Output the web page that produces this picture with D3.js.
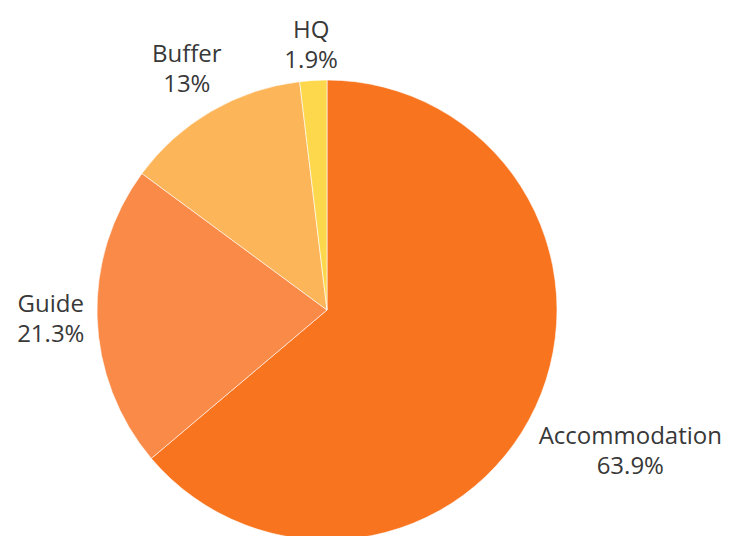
<!DOCTYPE html>
<html>
<head>
<meta charset="utf-8">
<script src="https://cdn.jsdelivr.net/npm/d3@7"></script>
<style>
  body { margin: 0; background: #fff; }
  text { font-family: "Open Sans", sans-serif; fill: #383838; }
</style>
</head>
<body>
<div class="chart"></div>
<script>
// slice data, clockwise from 12 o'clock
var categories = ["Accommodation", "Guide", "Buffer", "HQ"];
var shares = [63.9, 21.3, 13, 1.9];
var shareLabels = ["63.9%", "21.3%", "13%", "1.9%"];
var colors = ["#f8741f", "#fa8a47", "#fdb55a", "#fdd84c"];

var width = 743, height = 536;
var cx = 327, cy = 310, radius = 230;

var svg = d3.select(".chart").append("svg")
    .attr("width", width)
    .attr("height", height)
    .append("g")
    .attr("transform", "translate(" + cx + "," + cy + ")");

var data = categories.map(function (c, i) {
    return { name: c, value: shares[i], label: shareLabels[i], color: colors[i] };
});

var pie = d3.pie()
    .sort(null)
    .value(function (d) { return d.value; });

var arc = d3.arc()
    .innerRadius(0)
    .outerRadius(radius);

var arcs = pie(data);

svg.selectAll("path")
    .data(arcs)
    .enter().append("path")
    .attr("d", arc)
    .attr("fill", function (d) { return d.data.color; })
    .attr("stroke", "#fff")
    .attr("stroke-width", 0.6);

// labels: two lines, placed just outside the rim
var lineH = 30, gap = 12;
var labels = svg.selectAll("g.label")
    .data(arcs)
    .enter().append("g")
    .attr("class", "label");

labels.append("text")
    .attr("text-anchor", "middle")
    .style("font-size", "24px")
    .attr("y", -lineH / 2 + 8)
    .text(function (d) { return d.data.name; });

labels.append("text")
    .attr("text-anchor", "middle")
    .style("font-size", "24px")
    .attr("y", lineH / 2 + 8)
    .text(function (d) { return d.data.label; });

labels.attr("transform", function (d) {
    var a = (d.startAngle + d.endAngle) / 2;
    var s = Math.sin(a), c = -Math.cos(a);
    var bb = this.getBBox();
    var ext = Math.abs(s) * bb.width / 2 + Math.abs(c) * bb.height * 0.7 / 2;
    var r = radius + gap + ext;
    return "translate(" + (s * r) + "," + (c * r) + ")";
});
</script>
</body>
</html>
